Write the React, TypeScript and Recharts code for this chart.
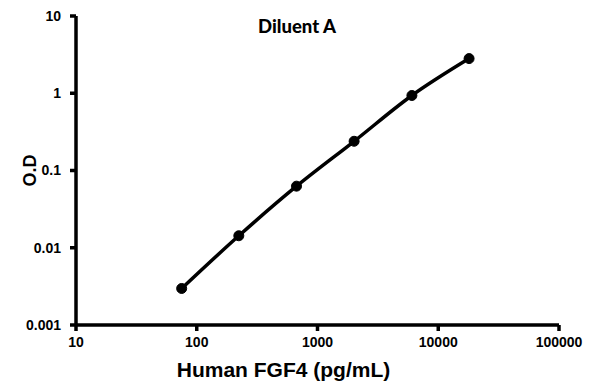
import { LineChart, Line, XAxis, YAxis, Label } from "recharts";

const concentrations = [75, 223, 670, 2010, 6050, 18000];
const odValues = [0.00297, 0.0143, 0.0627, 0.239, 0.935, 2.81];
const xTicks = [10, 100, 1000, 10000, 100000];
const yTicks = [0.001, 0.01, 0.1, 1, 10];

const data = concentrations.map((c, i) => ({ conc: c, od: odValues[i] }));

const ARIAL = "Liberation Sans, Arial, sans-serif";

const tickStyle = {
  fontFamily: ARIAL,
  fontSize: 14,
  fontWeight: 700,
  fill: "#000",
};

const axisStroke = { stroke: "#000", strokeWidth: 3.5 };

export default function App() {
  return (
    <div style={{ position: "absolute", left: 0, top: 0, background: "#fff" }}>
      <LineChart
        width={595}
        height={384}
        data={data}
        margin={{ top: 16, right: 36, bottom: 29, left: 0 }}
      >
        <XAxis
          dataKey="conc"
          type="number"
          scale="log"
          domain={[10, 100000]}
          ticks={xTicks}
          interval={0}
          allowDataOverflow
          height={30}
          axisLine={axisStroke}
          tickLine={axisStroke}
          tickSize={6}
          tickMargin={6}
          tick={tickStyle}
          tickFormatter={(v) => String(v)}
        >
          <Label
            value="Human FGF4 (pg/mL)"
            position="insideBottom"
            offset={-22}
            dx={-34}
            style={{
              fontFamily: ARIAL,
              fontSize: 21,
              fontWeight: 700,
              fill: "#000",
            }}
          />
        </XAxis>
        <YAxis
          dataKey="od"
          type="number"
          scale="log"
          domain={[0.001, 10]}
          ticks={yTicks}
          interval={0}
          allowDataOverflow
          width={76}
          axisLine={axisStroke}
          tickLine={axisStroke}
          tickSize={6}
          tickMargin={9}
          tick={tickStyle}
          tickFormatter={(v) => String(v)}
        >
          <Label
            value="O.D"
            angle={-90}
            position="insideLeft"
            offset={30}
            style={{
              fontFamily: ARIAL,
              fontSize: 18,
              fontWeight: 700,
              fill: "#000",
              textAnchor: "middle",
            }}
          />
        </YAxis>
        <text
          x={297}
          y={33}
          textAnchor="middle"
          style={{
            fontFamily: "Lato, 'Open Sans', sans-serif",
            fontSize: 18.5,
            fontWeight: 900,
            fill: "#000",
          }}
        >
          Diluent A
        </text>
        <Line
          type="monotone"
          dataKey="od"
          stroke="#000"
          strokeWidth={3.5}
          dot={{ r: 5, fill: "#000", stroke: "#000", strokeWidth: 1 }}
          isAnimationActive={false}
        />
      </LineChart>
    </div>
  );
}
